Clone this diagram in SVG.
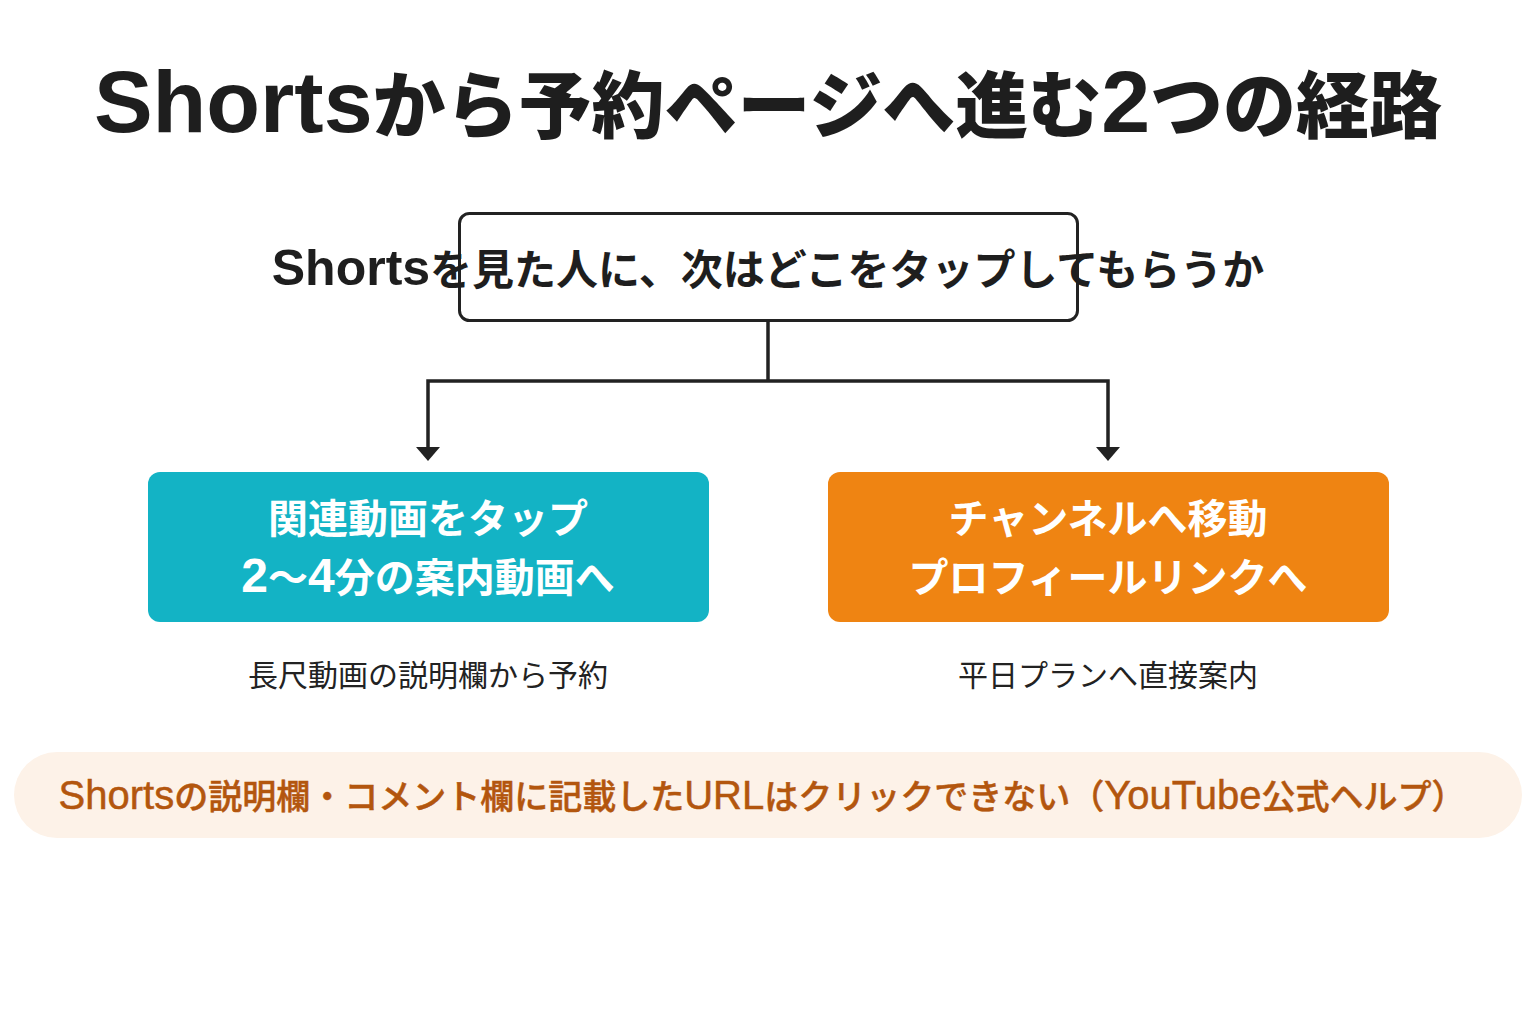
<svg xmlns="http://www.w3.org/2000/svg" width="1536" height="1024" viewBox="0 0 1536 1024">
<style>
  text { font-family: "Liberation Sans", "Noto Sans CJK JP", sans-serif; }
  .title { font-size: 73px; font-weight: 900; fill: #1e1e1e; }
  .title .lat { font-size: 88px; font-weight: 700; }
  .q { font-size: 42px; font-weight: 700; fill: #1e1e1e; }
  .q .lat { font-size: 50px; }
  .box-text { font-size: 40px; font-weight: 700; fill: #ffffff; }
  .box-text .lat { font-size: 48px; }
  .cap { font-size: 30px; font-weight: 400; fill: #222222; }
  .note { font-size: 34px; font-weight: 500; fill: #b3560e; stroke: #b3560e; stroke-width: 0.5; }
  .note .lat { font-size: 40px; }
  .conn { fill: none; stroke: #222222; stroke-width: 3.5; }
  .head { fill: #222222; }
</style>
<rect width="1536" height="1024" fill="#ffffff"/>

<g id="title">
  <text class="title" x="768" y="132" text-anchor="middle"><tspan class="lat">Shorts</tspan>から予約ページへ進む<tspan class="lat">2</tspan>つの経路</text>
</g>

<g id="question">
  <rect x="459.5" y="213.5" width="618" height="107" rx="10" fill="#ffffff" stroke="#222222" stroke-width="3"/>
  <text class="q" x="768" y="285" text-anchor="middle"><tspan class="lat">Shorts</tspan>を見た人に、次はどこをタップしてもらうか</text>
</g>

<g id="connectors">
  <path class="conn" d="M768 321 V381"/>
  <path class="conn" d="M428 448 V381 H1108 V448"/>
  <polygon class="head" points="416,447 440,447 428,461"/>
  <polygon class="head" points="1096,447 1120,447 1108,461"/>
</g>

<g id="related-video">
  <rect x="148" y="472" width="561" height="150" rx="12" fill="#13b3c5"/>
  <text class="box-text" x="428" y="533" text-anchor="middle">関連動画をタップ</text>
  <text class="box-text" x="428" y="592" text-anchor="middle"><tspan class="lat">2</tspan>〜<tspan class="lat">4</tspan>分の案内動画へ</text>
  <text class="cap" x="428" y="686" text-anchor="middle">長尺動画の説明欄から予約</text>
</g>

<g id="channel">
  <rect x="828" y="472" width="561" height="150" rx="12" fill="#ef8412"/>
  <text class="box-text" x="1108" y="533" text-anchor="middle">チャンネルへ移動</text>
  <text class="box-text" x="1108" y="592" text-anchor="middle">プロフィールリンクへ</text>
  <text class="cap" x="1108" y="686" text-anchor="middle">平日プランへ直接案内</text>
</g>

<g id="note">
  <rect x="14" y="752" width="1508" height="86" rx="43" fill="#fdf2e8"/>
  <text class="note" x="762" y="809" text-anchor="middle"><tspan class="lat">Shorts</tspan>の説明欄・コメント欄に記載した<tspan class="lat">URL</tspan>はクリックできない（<tspan class="lat">YouTube</tspan>公式ヘルプ）</text>
</g>
</svg>
